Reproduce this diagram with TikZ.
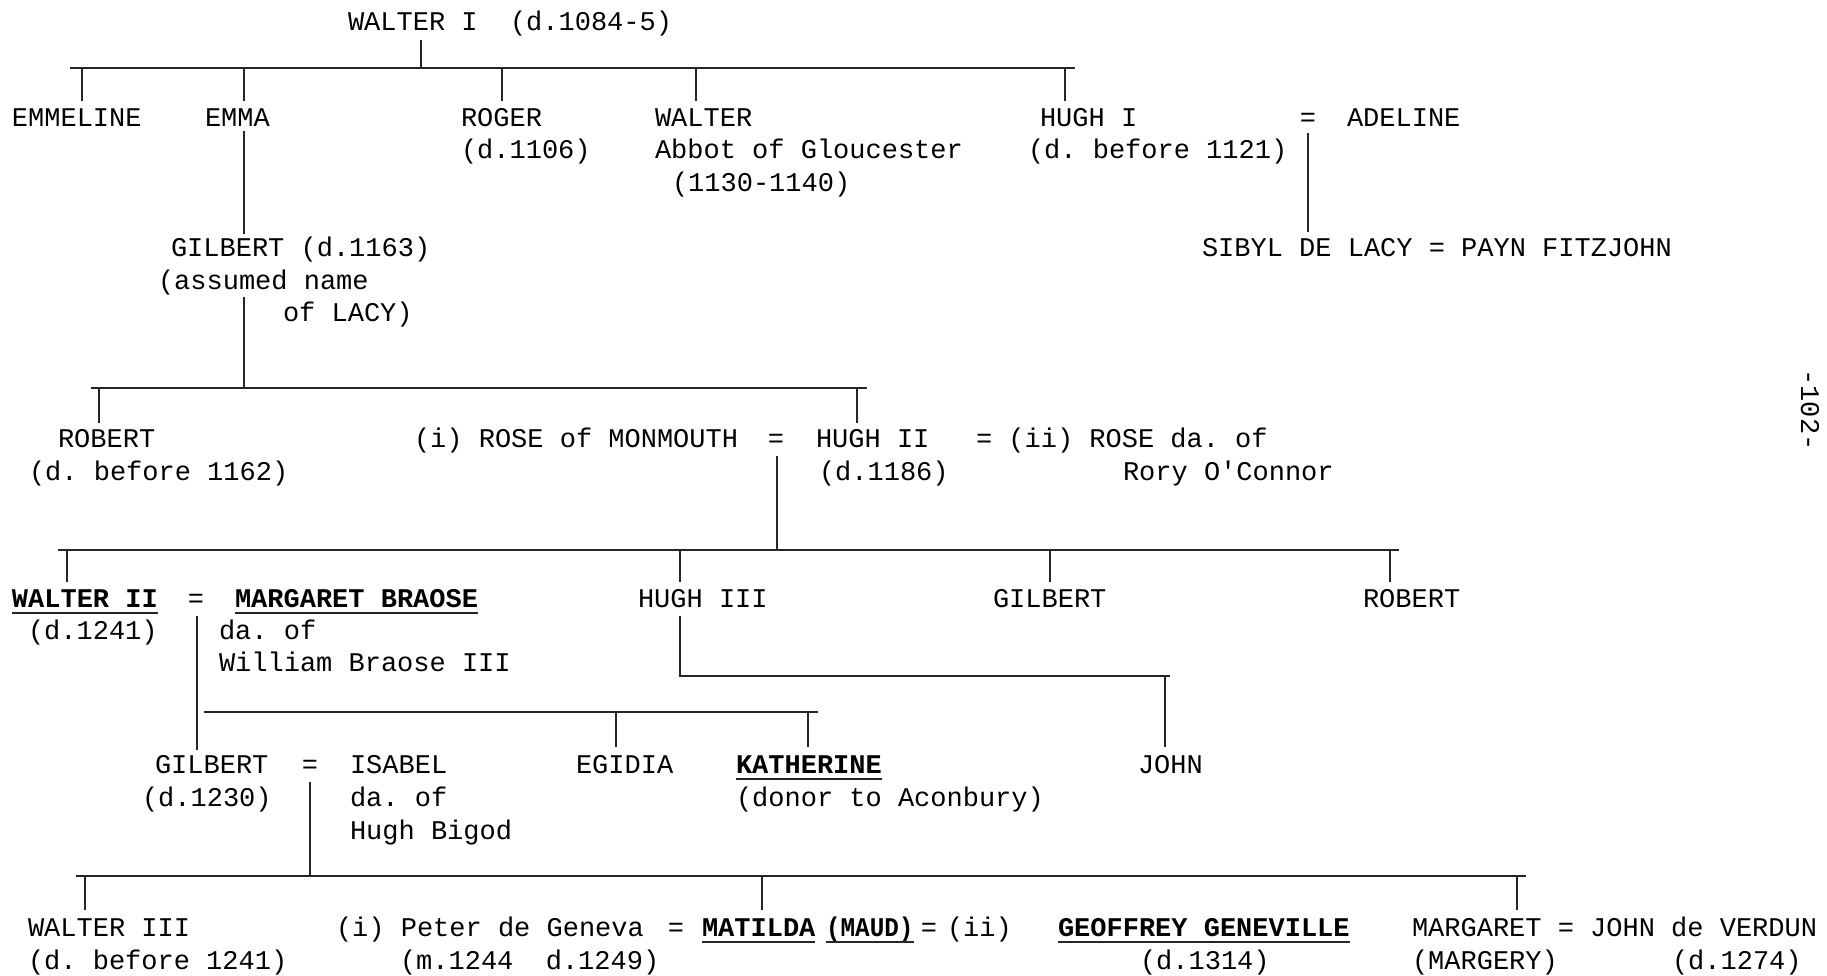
\documentclass[tikz,border=0pt]{standalone}
\usepackage{fontspec}
\newfontfamily\typewriter{Liberation Mono}
\frenchspacing
\begin{document}
\begin{tikzpicture}[x=1pt,y=-1pt,
  txt/.style={anchor=base west, inner sep=0pt, outer sep=0pt,
              font=\typewriter\fontsize{27}{32}\selectfont},
  eqs/.style={txt, anchor=base},
  bold/.style={txt, font=\typewriter\bfseries\fontsize{27}{32}\selectfont},
  rel/.style={line width=1.3pt, black!85, line cap=rect},
  ul/.style={line width=1.2pt, black!85}]

\useasboundingbox (0,0) rectangle (1827,975);

% ---------------- generation I ----------------
\node[txt] (walter1) at (348,30) {WALTER I~~(d.1084-5)};

\node[txt] (emmeline) at (12,126) {EMMELINE};
\node[txt] (emma)     at (205,126) {EMMA};
\node[txt] (roger)    at (461,126) {ROGER};
\node[txt] (rogerd)   at (461,158) {(d.1106)};
\node[txt] (walter)   at (655,126) {WALTER};
\node[txt] (abbot)    at (655,158) {Abbot of Gloucester};
\node[txt] (abbotd)   at (672,191) {(1130-1140)};
\node[txt] (hugh1)    at (1040,126) {HUGH I};
\node[txt] (hugh1d)   at (1028,158) {(d. before 1121)};
\node[eqs] (eq1)      at (1308,126) {=};
\node[txt] (adeline)  at (1347,126) {ADELINE};
\node[txt] (sibyl)    at (1202,256) {SIBYL DE LACY = PAYN FITZJOHN};

\node[txt] (gilbert1) at (171,256) {GILBERT (d.1163)};
\node[txt] (assumed)  at (158,289) {(assumed name};
\node[txt] (oflacy)   at (283,321) {of LACY)};

% ---------------- generation II ----------------
\node[txt] (robert1)  at (58,447) {ROBERT};
\node[txt] (robert1d) at (29,480) {(d. before 1162)};
\node[txt] (rose1)    at (414,447) {(i) ROSE of MONMOUTH};
\node[eqs] (eq2)      at (776,447) {=};
\node[txt] (hugh2)    at (816,447) {HUGH II};
\node[txt] (hugh2d)   at (819,480) {(d.1186)};
\node[txt] (rose2)    at (976,447) {= (ii) ROSE da. of};
\node[txt] (rory)     at (1123,480) {Rory O'Connor};

% ---------------- generation III ----------------
\node[bold] (walter2) at (12,607) {WALTER II};
\node[txt] (walter2d) at (28,639) {(d.1241)};
\node[eqs] (eq3)      at (196,607) {=};
\node[bold] (margaret) at (235,607) {MARGARET BRAOSE};
\node[txt] (da1)      at (219,639) {da. of};
\node[txt] (william)  at (219,671) {William Braose III};
\node[txt] (hugh3)    at (638,607) {HUGH III};
\node[txt] (gilbert2) at (993,607) {GILBERT};
\node[txt] (robert2)  at (1363,607) {ROBERT};

% ---------------- generation IV ----------------
\node[txt] (gilbert3)  at (155,773) {GILBERT};
\node[txt] (gilbert3d) at (142,806) {(d.1230)};
\node[eqs] (eq4)       at (310,773) {=};
\node[txt] (isabel)    at (350,773) {ISABEL};
\node[txt] (da2)       at (350,806) {da. of};
\node[txt] (bigod)     at (350,839) {Hugh Bigod};
\node[txt] (egidia)    at (576,773) {EGIDIA};
\node[bold] (katherine) at (736,773) {KATHERINE};
\node[txt] (donor)     at (736,806) {(donor to Aconbury)};
\node[txt] (john)      at (1138,773) {JOHN};

% ---------------- generation V ----------------
\node[txt] (walter3)   at (28,936) {WALTER III};
\node[txt] (walter3d)  at (28,969) {(d. before 1241)};
\node[txt] (peter)     at (336,936) {(i) Peter de Geneva};
\node[txt] (peterd)    at (400,969) {(m.1244~~d.1249)};
\node[eqs] (eq5)       at (676,936) {=};
\node[bold] (matilda)  at (702,936) {MATILDA};
\node[bold, xscale=0.9] (maud) at (826,936) {(MAUD)};
\node[eqs] (eq6)       at (929,936) {=};
\node[txt] (ii)        at (947,936) {(ii)};
\node[bold] (geoffrey) at (1058,936) {GEOFFREY GENEVILLE};
\node[txt] (geoffreyd) at (1140,969) {(d.1314)};
\node[txt] (margaret2) at (1412,936) {MARGARET = JOHN de VERDUN};
\node[txt] (margery)   at (1412,969) {(MARGERY)};
\node[txt] (verdund)   at (1672,969) {(d.1274)};

% page number in the margin
\node[txt, anchor=center, rotate=-90] (pagenum) at (1810,410) {-102-};

% underlined names
\foreach \n in {walter2,margaret,katherine,matilda,maud,geoffrey}
  \draw[ul] ([yshift=-6pt]\n.base west) -- ([yshift=-6pt]\n.base east);

% ---------------- connecting lines ----------------
% children of Walter I
\coordinate (s0)  at (421,41);
\coordinate (b0l) at (71,68);
\coordinate (b0r) at (1074,68);
\draw[rel] (s0) -- (s0 |- b0l);
\draw[rel] (b0l) -- (b0r);
\foreach \x/\n in {82/emmeline,244/emma,502/roger,696/walter,1065/hugh1} {
  \coordinate (k-\n) at (\x,100);
  \draw[rel] (k-\n |- b0l) -- (k-\n);
}

% Hugh I and Adeline
\coordinate (m1t) at (1308,134);
\coordinate (m1b) at (1308,231);
\draw[rel] (m1t) -- (m1b);

% Emma to Gilbert
\coordinate (e1t) at (244,132);
\coordinate (e1b) at (244,233);
\draw[rel] (e1t) -- (e1b);

% children of Gilbert
\coordinate (s1)  at (244,298);
\coordinate (b1l) at (92,388);
\coordinate (b1r) at (866,388);
\draw[rel] (s1) -- (s1 |- b1l);
\draw[rel] (b1l) -- (b1r);
\foreach \x/\n in {99/robert1,857/hugh2} {
  \coordinate (k-\n) at (\x,422);
  \draw[rel] (k-\n |- b1l) -- (k-\n);
}

% children of Hugh II
\coordinate (s2)  at (777,457);
\coordinate (b2l) at (59,550);
\coordinate (b2r) at (1398,550);
\draw[rel] (s2) -- (s2 |- b2l);
\draw[rel] (b2l) -- (b2r);
\foreach \x/\n in {67/walter2,680/hugh3,1050/gilbert2,1390/robert2} {
  \coordinate (k-\n) at (\x,581);
  \draw[rel] (k-\n |- b2l) -- (k-\n);
}

% children of Walter II
\coordinate (s3t) at (197,617);
\coordinate (s3b) at (197,749);
\draw[rel] (s3t) -- (s3b);
\coordinate (b3l) at (205,712);
\coordinate (b3r) at (817,712);
\draw[rel] (b3l) -- (b3r);
\foreach \x/\n in {616/egidia,808/katherine} {
  \coordinate (k-\n) at (\x,746);
  \draw[rel] (k-\n |- b3l) -- (k-\n);
}

% Hugh III to John
\coordinate (h3t) at (680,617);
\coordinate (h3r) at (1169,676);
\coordinate (k-john) at (1165,746);
\draw[rel] (h3t) |- (h3r);
\draw[rel] (k-john |- h3r) -- (k-john);

% children of Gilbert and Isabel
\coordinate (s4)  at (310,783);
\coordinate (b4l) at (77,876);
\coordinate (b4r) at (1525,876);
\draw[rel] (s4) -- (s4 |- b4l);
\draw[rel] (b4l) -- (b4r);
\foreach \x/\n in {85/walter3,762/matilda,1517/margaret2} {
  \coordinate (k-\n) at (\x,909);
  \draw[rel] (k-\n |- b4l) -- (k-\n);
}
\end{tikzpicture}
\end{document}
